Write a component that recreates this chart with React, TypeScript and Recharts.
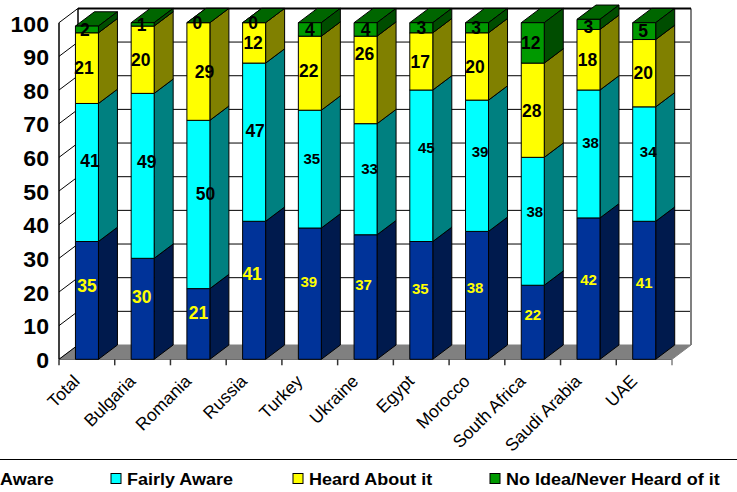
import React from "react";
import { BarChart, Bar, XAxis, YAxis, Legend, LabelList } from "recharts";

const categories = ["Total", "Bulgaria", "Romania", "Russia", "Turkey", "Ukraine", "Egypt", "Morocco", "South Africa", "Saudi Arabia", "UAE"];
const firstLevel = [35, 30, 21, 41, 39, 37, 35, 38, 22, 42, 41];
const fairlyAware = [41, 49, 50, 47, 35, 33, 45, 39, 38, 38, 34];
const heardAbout = [21, 20, 29, 12, 22, 26, 17, 20, 28, 18, 20];
const noIdea = [2, 1, 0, 0, 4, 4, 3, 3, 12, 3, 5];
const yTicks = [0, 10, 20, 30, 40, 50, 60, 70, 80, 90, 100];

const rows = categories.map((name, i) => ({
  name,
  firstLevel: firstLevel[i],
  fairlyAware: fairlyAware[i],
  heardAbout: heardAbout[i],
  noIdea: noIdea[i],
}));

// Chart frame and the oblique projection used for the depth of the box.
const WIDTH = 737;
const HEIGHT = 492;
const PLOT_LEFT = 59;
const PLOT_TOP = 22.7;
const PLOT_W = 613;
const PLOT_H = 336.6;
const PLOT_BOTTOM_GAP = HEIGHT - PLOT_TOP - PLOT_H;
const PLOT_RIGHT_GAP = WIDTH - PLOT_LEFT - PLOT_W;
const DEPTH_X = 19;
const DEPTH_Y = 14.3;
const BAND = PLOT_W / categories.length;
const FONT = "'Liberation Sans', Arial, sans-serif";

// Rounded shares can add up to slightly over 100, so the column layer keeps the
// same pixels per unit as the axis while its domain reaches the tallest stack.
const STACK_MAX = Math.max(100, ...rows.map((r) => r.firstLevel + r.fairlyAware + r.heardAbout + r.noIdea));
const COLUMN_TOP = PLOT_TOP - ((STACK_MAX - 100) * PLOT_H) / 100;

// Hand placed label nudges per series, relative to the middle of each segment.
const nudgeX = {
  firstLevel: [0, -1, 0, -2, -1, -2, -1, -2, 0, 0, 0],
  fairlyAware: [3, 4, 7, 1, 2, 4, 5, 3, 2, 2, 4],
  heardAbout: [-3, -2, 6, -1, -1, -1, -1, -2, -1, -1, -1],
  noIdea: [-2, -1, -1, -1, 0, 0, 0, -1, -2, 0, -1],
};
const nudgeY = {
  firstLevel: [-15, -12, -11, -17, -12, -12, -12, -8, -8, -9, -8],
  fairlyAware: [-12, -14, -11, -11, -11, -11, -18, -14, -10, -11, -12],
  heardAbout: [0, 0, 0, 0, -2, -26, 0, 0, 0, 0, 0],
  noIdea: [0, 0, 0, 0, 0, 0, 0, 0, 0, 2, 0],
};

function Prism(props: any) {
  const { x, y, width, height, fill, sideFill, topFill } = props;
  const dx = DEPTH_X;
  const dy = DEPTH_Y;
  const r = x + width;
  const b = y + height;
  return (
    <g stroke="#000" strokeWidth={1} strokeLinejoin="round">
      <path d={`M${x},${y}L${r},${y}L${r + dx},${y - dy}L${x + dx},${y - dy}Z`} fill={topFill} />
      {height > 0 && <path d={`M${r},${y}L${r + dx},${y - dy}L${r + dx},${b - dy}L${r},${b}Z`} fill={sideFill} />}
      {height > 0 && <rect x={x} y={y} width={width} height={height} fill={fill} />}
    </g>
  );
}

function segmentLabel(seriesKey: keyof typeof nudgeX, color: string, smallFrom: number) {
  return (props: any) => {
    const { x, y, width, height, value, index } = props;
    const size = index >= smallFrom ? 15 : 17.5;
    const cx = x + width / 2 + nudgeX[seriesKey][index];
    const cy = y + height / 2 + nudgeY[seriesKey][index];
    return (
      <text x={cx} y={cy} dy="0.36em" textAnchor="middle" fontFamily={FONT} fontWeight="bold" fontSize={size} fill={color}>
        {value}
      </text>
    );
  };
}

// The value axis also owns the walls and floor of the box, since it holds the scale.
function ValueTick(props: any) {
  const { x, y, payload } = props;
  const backX = x + DEPTH_X;
  const backY = y - DEPTH_Y;
  const isTop = payload.value === 100;
  const isFloor = payload.value === 0;
  return (
    <g>
      {isFloor && (
        <path
          d={`M${x},${y}L${x + PLOT_W},${y}L${backX + PLOT_W},${backY}L${backX},${backY}Z`}
          fill="#808080"
          stroke="#808080"
        />
      )}
      {isTop && (
        <g>
          <line x1={backX} y1={backY} x2={backX} y2={backY + PLOT_H} stroke="#000" strokeWidth={1.5} />
          <line x1={backX + PLOT_W} y1={backY} x2={backX + PLOT_W} y2={backY + PLOT_H} stroke="#808080" strokeWidth={2} />
          <line x1={x} y1={y} x2={x} y2={y + PLOT_H} stroke="#000" strokeWidth={1.5} />
        </g>
      )}
      {!isFloor && <line x1={backX} y1={backY} x2={backX + PLOT_W} y2={backY} stroke="#000" strokeWidth={isTop ? 2 : 1} />}
      <line x1={x} y1={y} x2={backX} y2={backY} stroke="#000" strokeWidth={1} />
      <text
        transform={`translate(${x - 10},${y}) scale(1.05,1)`}
        dy="0.4em"
        textAnchor="end"
        fontFamily={FONT}
        fontWeight="bold"
        fontSize={22}
        fill="#000"
      >
        {payload.value}
      </text>
    </g>
  );
}

function CategoryTick(props: any) {
  const { x, y, payload, index } = props;
  const left = x - BAND / 2;
  const last = index === categories.length - 1;
  return (
    <g>
      <line x1={left} y1={y} x2={left} y2={y + 6} stroke="#333" strokeWidth={1.5} />
      {last && <line x1={left + BAND} y1={y} x2={left + BAND} y2={y + 6} stroke="#808080" strokeWidth={1.5} />}
      <text
        transform={`translate(${x - 6},${y + 23}) rotate(-45)`}
        textAnchor="end"
        fontFamily={FONT}
        fontSize={17.5}
        fill="#000"
      >
        {payload.value}
      </text>
    </g>
  );
}

const keyLefts = [-16, 111, 293, 490];

function LegendRow(props: any) {
  const items = props.payload || [];
  return (
    <svg width={WIDTH} height={HEIGHT - 459} style={{ display: "block" }}>
      <line x1={0} y1={0.5} x2={WIDTH} y2={0.5} stroke="#000" strokeWidth={1} />
      {items.map((item: any, i: number) => (
        <g key={item.value}>
          <rect x={keyLefts[i]} y={14.5} width={10} height={10} fill={item.color} stroke="#000" strokeWidth={1} />
          <text
            transform={`translate(${keyLefts[i] + 16},26) scale(1.09,1)`}
            fontFamily={FONT}
            fontWeight="bold"
            fontSize={16.5}
            fill="#000"
          >
            {item.value}
          </text>
        </g>
      ))}
    </svg>
  );
}

const layer: React.CSSProperties = { position: "absolute", left: 0, top: 0 };

export default function App() {
  return (
    <div style={{ position: "absolute", left: 0, top: 0, width: WIDTH, height: HEIGHT, overflow: "hidden", background: "#fff" }}>
      {/* Box walls, floor and axes sit in their own chart beneath the stacked columns. */}
      <div style={layer}>
        <BarChart
          width={WIDTH}
          height={HEIGHT}
          data={rows}
          margin={{ top: PLOT_TOP, right: PLOT_RIGHT_GAP, bottom: 0, left: 0 }}
        >
          <YAxis
            type="number"
            domain={[0, 100]}
            allowDataOverflow
            ticks={yTicks}
            interval={0}
            width={PLOT_LEFT}
            tickSize={0}
            tickMargin={0}
            axisLine={false}
            tickLine={false}
            tick={ValueTick}
          />
          <XAxis
            dataKey="name"
            interval={0}
            height={PLOT_BOTTOM_GAP}
            tickSize={0}
            tickMargin={0}
            tickLine={false}
            axisLine={{ stroke: "#000", strokeWidth: 1.5 }}
            tick={CategoryTick}
          />
          <Bar dataKey="firstLevel" isAnimationActive={false} shape={() => null} />
        </BarChart>
      </div>
      <div style={layer}>
        <BarChart
          width={WIDTH}
          height={HEIGHT}
          data={rows}
          margin={{ top: COLUMN_TOP, right: PLOT_RIGHT_GAP, bottom: PLOT_BOTTOM_GAP, left: PLOT_LEFT }}
          barCategoryGap="29.5%"
          style={{ background: "transparent" }}
        >
          <YAxis type="number" domain={[0, STACK_MAX]} hide />
          <XAxis dataKey="name" hide />
          <Legend
            layout="horizontal"
            align="center"
            verticalAlign="middle"
            itemSorter={null}
            content={LegendRow}
            wrapperStyle={{ position: "absolute", left: 0, top: 459, width: WIDTH, height: HEIGHT - 459 }}
          />
          <Bar
            dataKey="firstLevel"
            name="Aware"
            stackId="awareness"
            fill="#003399"
            isAnimationActive={false}
            shape={(p: any) => <Prism {...p} sideFill="#001a4d" topFill="#002673" />}
          >
            <LabelList dataKey="firstLevel" content={segmentLabel("firstLevel", "#ffff00", 4)} />
          </Bar>
          <Bar
            dataKey="fairlyAware"
            name="Fairly Aware"
            stackId="awareness"
            fill="#00ffff"
            isAnimationActive={false}
            shape={(p: any) => <Prism {...p} sideFill="#008080" topFill="#00bfbf" />}
          >
            <LabelList dataKey="fairlyAware" content={segmentLabel("fairlyAware", "#000", 4)} />
          </Bar>
          <Bar
            dataKey="heardAbout"
            name="Heard About it"
            stackId="awareness"
            fill="#ffff00"
            isAnimationActive={false}
            shape={(p: any) => <Prism {...p} sideFill="#808000" topFill="#bfbf00" />}
          >
            <LabelList dataKey="heardAbout" content={segmentLabel("heardAbout", "#000", 99)} />
          </Bar>
          <Bar
            dataKey="noIdea"
            name="No Idea/Never Heard of it"
            stackId="awareness"
            fill="#009900"
            isAnimationActive={false}
            shape={(p: any) => <Prism {...p} sideFill="#004d00" topFill="#006600" />}
          >
            <LabelList dataKey="noIdea" content={segmentLabel("noIdea", "#000", 99)} />
          </Bar>
        </BarChart>
      </div>
    </div>
  );
}
